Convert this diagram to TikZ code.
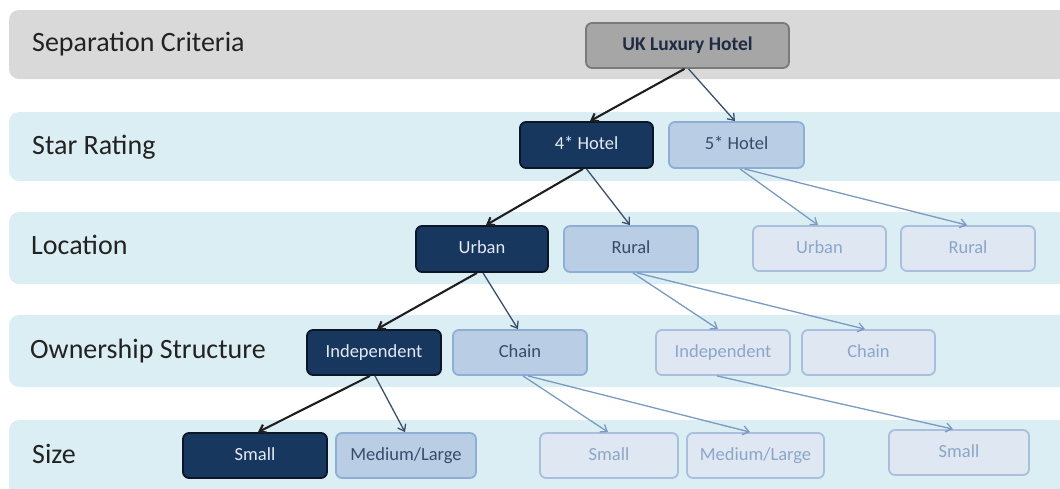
\documentclass[tikz,border=0pt]{standalone}
\usepackage{fontspec}
\setmainfont{Carlito}
\usetikzlibrary{arrows.meta,calc}

\definecolor{bandgrey}{HTML}{D9D9D9}
\definecolor{bandblue}{HTML}{DBEEF4}
\definecolor{rootfill}{HTML}{A6A6A6}
\definecolor{rootedge}{HTML}{7A7A7A}
\definecolor{roottext}{HTML}{1F2A44}
\definecolor{darkfill}{HTML}{17375E}
\definecolor{darkedge}{HTML}{0B1626}
\definecolor{darktext}{HTML}{E4EAF3}
\definecolor{midfill}{HTML}{B9CDE5}
\definecolor{midedge}{HTML}{8EAED6}
\definecolor{midtext}{HTML}{3A4A68}
\definecolor{faintfill}{HTML}{DFE7F3}
\definecolor{faintedge}{HTML}{A9BFDC}
\definecolor{fainttext}{HTML}{8CA6C8}
\definecolor{labeltext}{HTML}{222222}
\definecolor{thinarrow}{HTML}{3B4F6B}
\definecolor{faintarrow}{HTML}{7B9AC2}

\tikzset{
  box/.style={rectangle, rounded corners=6pt, line width=1.8pt, inner sep=0pt,
    minimum height=45pt, font=\fontsize{18.5}{20}\selectfont,
    text height=12.5pt, text depth=3.5pt},
  rootbox/.style={box, fill=rootfill, draw=rootedge, text=roottext,
    font=\fontsize{19.5}{22}\selectfont\bfseries},
  darkbox/.style={box, fill=darkfill, draw=darkedge, text=darktext},
  midbox/.style={box, fill=midfill, draw=midedge, text=midtext},
  faintbox/.style={box, fill=faintfill, draw=faintedge, text=fainttext},
  crit/.style={anchor=west, inner sep=0pt, text=labeltext,
    font=\fontsize{28}{30}\selectfont, text height=18pt, text depth=5pt},
  band/.style={rounded corners=10pt},
  tip/.style={-{Straight Barb[length=6pt,width=9pt]}},
  mainlink/.style={tip, line width=2.1pt, draw=black!88},
  sidelink/.style={tip, line width=1.3pt, draw=thinarrow},
  faintlink/.style={tip, line width=1.3pt, draw=faintarrow}
}

\begin{document}
\begin{tikzpicture}[x=1pt, y=-1pt]
\useasboundingbox (0,0) rectangle (1060,488);

% criteria bands
\fill[bandgrey, band] (9,10) rectangle (1080,79);
\fill[bandblue, band] (9,112) rectangle (1080,181);
\fill[bandblue, band] (9,212) rectangle (1080,284);
\fill[bandblue, band] (9,315) rectangle (1080,387);
\fill[bandblue, band] (9,420) rectangle (1080,500);

% criteria labels
\node[crit] (lsep)  at (32,45)  {Separation Criteria};
\node[crit] (lstar) at (32,148) {Star Rating};
\node[crit] (lloc)  at (31,248) {Location};
\node[crit] (lown)  at (30,352) {Ownership Structure};
\node[crit] (lsize) at (32,457) {Size};

% root
\node[rootbox, minimum width=203pt] (uk) at (687.5,45.5) {UK Luxury Hotel};

% star rating
\node[darkbox, minimum width=133pt, minimum height=46pt] (s4) at (586.5,145) {4* Hotel};
\node[midbox,  minimum width=135pt, minimum height=46pt] (s5) at (736.5,145) {5* Hotel};

% location
\node[darkbox,  minimum width=132pt, minimum height=46pt] (urb)  at (482,249) {Urban};
\node[midbox,   minimum width=134pt, minimum height=46pt] (rur)  at (631,249) {Rural};
\node[faintbox, minimum width=133pt] (urbf) at (819.5,248.5) {Urban};
\node[faintbox, minimum width=134pt] (rurf) at (968,248.5) {Rural};

% ownership structure
\node[darkbox,  minimum width=134pt] (ind)  at (374,352.5) {Independent};
\node[midbox,   minimum width=134pt] (chn)  at (520,352.5) {Chain};
\node[faintbox, minimum width=134pt] (indf) at (723,352.5) {Independent};
\node[faintbox, minimum width=133pt] (chnf) at (868.5,352.5) {Chain};

% size
\node[darkbox,  minimum width=144pt] (sml)   at (255,455.5) {Small};
\node[midbox,   minimum width=140pt] (med)   at (406,455.5) {Medium/Large};
\node[faintbox, minimum width=138pt] (smlf)  at (609,455.5) {Small};
\node[faintbox, minimum width=137pt] (medf)  at (755.5,455.5) {Medium/Large};
\node[faintbox, minimum width=140pt] (smlf2) at (959,452.5) {Small};

% connectors
\draw[mainlink] ([xshift=-3pt]uk.south) -- ([xshift=3.5pt]s4.north);
\draw[sidelink] ([xshift=1pt]uk.south)  -- ([xshift=-1.5pt]s5.north);

\draw[mainlink] ([xshift=-3.5pt]s4.south) -- ([xshift=4pt]urb.north);
\draw[sidelink] ([xshift=0pt]s4.south)    -- ([xshift=-1pt]rur.north);
\draw[faintlink] ([xshift=3.5pt]s5.south) -- ([xshift=-1.5pt]urbf.north);
\draw[faintlink] ([xshift=8pt]s5.south)   -- ([xshift=-1pt]rurf.north);

\draw[mainlink] ([xshift=-5pt]urb.south) -- ([xshift=3pt]ind.north);
\draw[sidelink] ([xshift=1pt]urb.south)  -- ([xshift=-2pt]chn.north);
\draw[faintlink] ([xshift=2pt]rur.south) -- ([xshift=-5pt]indf.north);
\draw[faintlink] ([xshift=6pt]rur.south) -- ([xshift=-3.5pt]chnf.north);

\draw[mainlink] ([xshift=-4pt]ind.south) -- ([xshift=3pt]sml.north);
\draw[sidelink] ([xshift=1pt]ind.south)  -- ([xshift=-1pt]med.north);
\draw[faintlink] ([xshift=3pt]chn.south) -- ([xshift=-1pt]smlf.north);
\draw[faintlink] ([xshift=8pt]chn.south) -- ([xshift=-5.5pt]medf.north);
\draw[faintlink] ([xshift=-6pt]indf.south) -- ([xshift=-6pt]smlf2.north);
\end{tikzpicture}
\end{document}
